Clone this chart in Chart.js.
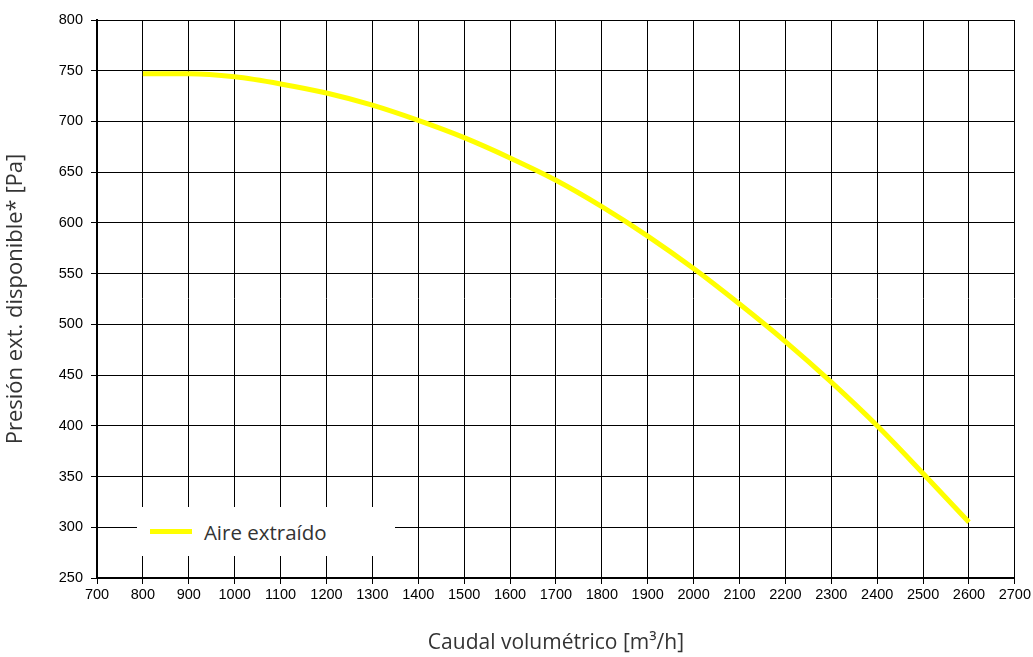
<!DOCTYPE html>
<html>
<head>
<meta charset="utf-8">
<script src="https://cdn.jsdelivr.net/npm/chart.js@4"></script>
<style>
body{margin:0;background:#fff}
#wrap{position:relative;width:1033px;height:657px}
#legendBox{position:absolute;background:#fff;display:flex;align-items:center;font-family:"Open Sans",sans-serif;font-size:20.5px;color:#333}
#legendBox span.sw{display:inline-block;width:42px;height:5px;margin:0 12px 0 13px}
</style>
</head>
<body>
<div id="wrap">
<canvas id="chart" width="1033" height="657"></canvas>
<div id="legendBox"></div>
</div>
<script>

// curve
const flows = [800,900,1000,1100,1200,1300,1400,1500,1600,1700,1800,1900,2000,2100,2200,2300,2400,2500,2600]
const pressure = [747,747,744,737,728,716,701,684,664,642,616,587,555,520,483,443,400,353,305]

const seriesName = "Aire extraído"
const seriesColor = "#ffff00"

const xTitle = "Caudal volumétrico [m³/h]"
const yTitle = "Presión ext. disponible* [Pa]"

const xMin = 700, xMax = 2700, xStep = 100
const yMin = 250, yMax = 800, yStep = 50

const tickFont = {family:"'Liberation Sans', Arial, sans-serif", size:14.5}

const points = flows.map((f,i)=>({x:f, y:pressure[i]}))

const chart = new Chart(document.getElementById("chart"),{

type:"line",

data:{
datasets:[{
label:seriesName,
data:points,
borderColor:seriesColor,
borderWidth:5,
pointRadius:0,
tension:0.4,
cubicInterpolationMode:"monotone",
fill:false
}]
},

options:{
responsive:false,
animation:false,
layout:{padding:{top:20,right:17,left:0,bottom:0}},
plugins:{
legend:{display:false},
tooltip:{enabled:false}
},
scales:{
x:{
type:"linear",
min:xMin,
max:xMax,
ticks:{stepSize:xStep,color:"#000",font:tickFont,padding:2,maxRotation:0,autoSkip:false,callback:v=>String(v)},
grid:{color:"#000",lineWidth:1,tickLength:6},
border:{color:"#000",width:2},
title:{display:true,text:xTitle,color:"#333",font:{family:"'Open Sans', sans-serif",size:21},padding:{top:0,bottom:1}},
afterFit:s=>{s.height=79}
},
y:{
min:yMin,
max:yMax,
ticks:{stepSize:yStep,color:"#000",font:tickFont,padding:8,callback:v=>String(v)},
grid:{color:"#000",lineWidth:1,tickLength:6},
border:{color:"#000",width:2},
title:{display:true,text:yTitle,color:"#333",font:{family:"'Open Sans', sans-serif",size:22},padding:{top:3,bottom:0}},
afterFit:s=>{s.width=97}
}
}
}

})

// legend box sits inside the plot, bottom-left
const lg = document.getElementById("legendBox")
const xs = chart.scales.x, ys = chart.scales.y
const bx = xs.getPixelForValue(800) - 6
const by = ys.getPixelForValue(300) - 20
lg.style.left = bx + "px"
lg.style.top = by + "px"
lg.style.width = (xs.getPixelForValue(1350) - bx) + "px"
lg.style.height = "49px"
lg.innerHTML = `<span class="sw" style="background:${seriesColor}"></span>${seriesName}`

</script>
</body>
</html>
